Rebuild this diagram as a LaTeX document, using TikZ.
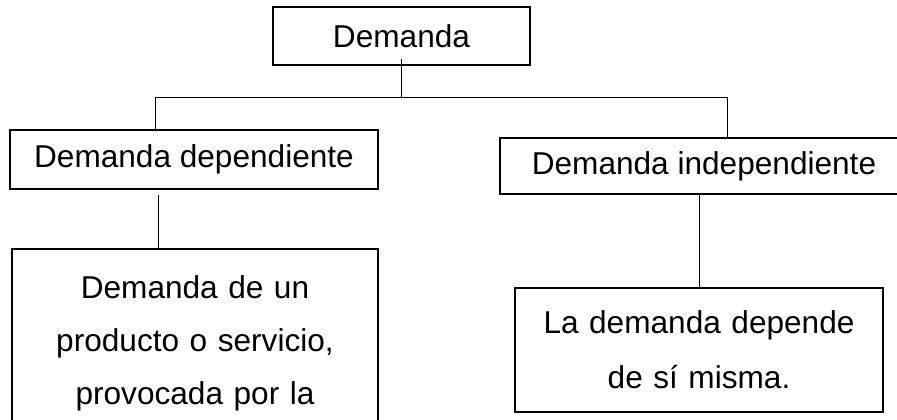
\documentclass[tikz,border=0pt]{standalone}
\usepackage{fontspec}
\setmainfont{Liberation Sans}
\begin{document}
\begin{tikzpicture}[x = 0.5pt, y = -0.5pt, font = \fontsize{15.8}{26.5}\selectfont]
		\tikzset{caja/.style = {draw, line width = 1pt, inner sep = 0pt, align = center}}
		\useasboundingbox (0, 0) rectangle (897, 419);
		\clip (0, 0) rectangle (897, 419);
		\node[caja, minimum width = 128.5pt, minimum height = 29pt] (dem) at (401.5, 36) {Demanda};
		\node[caja, minimum width = 184pt, minimum height = 29.5pt] (dep) at (194, 159.5) {Demanda dependiente};
		\node[caja, minimum width = 204pt, minimum height = 28pt] (ind) at (704, 166) {Demanda independiente};
		\node[caja, anchor = north, text width = 183pt, inner ysep = 13.5pt] (expl) at (195, 248) {Demanda de un\\producto o servicio,\\provocada por la\\};
		\node[caja, text width = 184pt, minimum height = 62pt, font = \fontsize{15.8}{27.5}\selectfont] (misma) at (699, 350) {La demanda depende\\de sí misma.};
		\coordinate (izq) at (155, 97);
		\coordinate (der) at (727, 97);
		\coordinate (c1) at (158, 195);
		\draw[line width = 0.5pt] ([yshift = 3.5pt]dem.south) -- (dem.south |- izq);
		\draw[line width = 0.5pt] (izq) -- (der);
		\draw[line width = 0.5pt] (izq) -- (izq |- dep.north);
		\draw[line width = 0.5pt] (der) -- (der |- ind.north);
		\draw[line width = 0.5pt] (c1) -- (c1 |- expl.north);
		\draw[line width = 0.5pt] (misma.north |- ind.south) -- (misma.north);
	\end{tikzpicture}
\end{document}
